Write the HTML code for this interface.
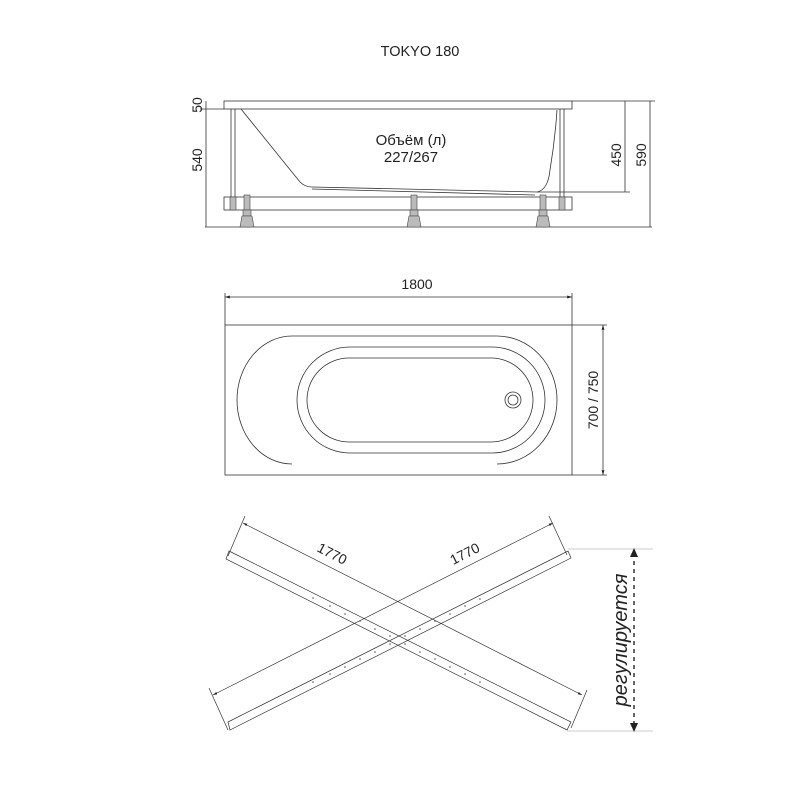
<!DOCTYPE html>
<html><head><meta charset="utf-8"><style>
html,body{margin:0;padding:0;background:#fff}
svg{display:block}
text{font-family:"Liberation Sans",sans-serif;fill:#222}
</style></head><body>
<svg width="800" height="800" viewBox="0 0 800 800" xmlns="http://www.w3.org/2000/svg">
<defs>
<marker id="a" viewBox="0 0 10 10" refX="10" refY="5" markerWidth="6" markerHeight="6" orient="auto-start-reverse"><path d="M0,2 L10,5 L0,8z" fill="#222"/></marker>
</defs>
<text x="420" y="56" font-size="14.5" text-anchor="middle">TOKYO 180</text>

<!-- side view -->
<g stroke="#333" stroke-width="0.8" fill="none">
<rect x="224" y="101" width="348" height="8"/>
<rect x="224" y="197" width="348" height="13"/>
<line x1="205" y1="227" x2="652" y2="227"/>
<line x1="231" y1="109" x2="231" y2="197"/><line x1="235" y1="109" x2="235" y2="197"/>
<line x1="560" y1="109" x2="560" y2="197"/><line x1="564" y1="109" x2="564" y2="197"/>
<path d="M241,109 L300,182 Q305,187 312,187 L537,192 Q548,190 550,170 Q555,140 557,110"/>
<path d="M312,189 L535,195"/>
<line x1="206" y1="101" x2="206" y2="227"/>
<line x1="200" y1="109" x2="224" y2="109"/>
<line x1="625" y1="101" x2="625" y2="192"/>
<line x1="650" y1="101" x2="650" y2="227"/>
<line x1="572" y1="101" x2="655" y2="101"/>
<line x1="537" y1="192" x2="630" y2="192"/>
</g>
<g fill="#bbb" stroke="#444" stroke-width="0.6">
<rect x="244" y="195" width="6" height="15"/><rect x="243" y="210" width="8" height="6"/><path d="M242,216 L252,216 L254,227 L240,227z"/>
<rect x="411" y="195" width="6" height="15"/><rect x="410" y="210" width="8" height="6"/><path d="M409,216 L419,216 L421,227 L407,227z"/>
<rect x="540" y="195" width="6" height="15"/><rect x="539" y="210" width="8" height="6"/><path d="M538,216 L548,216 L550,227 L536,227z"/>
<rect x="230" y="197" width="6" height="13"/><rect x="559" y="197" width="6" height="13"/>
</g>
<text x="411" y="145" font-size="15" text-anchor="middle">Объём (л)</text>
<text x="411" y="162" font-size="15" text-anchor="middle">227/267</text>
<text transform="translate(202,105) rotate(-90)" font-size="14" text-anchor="middle">50</text>
<text transform="translate(202,160) rotate(-90)" font-size="14" text-anchor="middle">540</text>
<text transform="translate(621,155) rotate(-90)" font-size="14" text-anchor="middle">450</text>
<text transform="translate(646,155) rotate(-90)" font-size="14" text-anchor="middle">590</text>

<!-- top view -->
<g stroke="#333" stroke-width="0.8" fill="none">
<line x1="225" y1="297" x2="572" y2="297" marker-start="url(#a)" marker-end="url(#a)"/>
<line x1="225" y1="293" x2="225" y2="325"/><line x1="572" y1="293" x2="572" y2="325"/>
<rect x="225" y="325" width="347" height="150"/>
<line x1="572" y1="325" x2="607" y2="325"/><line x1="572" y1="475" x2="607" y2="475"/>
<line x1="603" y1="325" x2="603" y2="475" marker-start="url(#a)" marker-end="url(#a)"/>
<path d="M292,336 L497,336 A60,64 0 0 1 557,400 A60,64 0 0 1 497,464 M292,464 A55,64 0 0 1 237,400 A55,64 0 0 1 292,336"/>
<path d="M350,347 L492,347 A53,53 0 0 1 492,453 L350,453 A53,53 0 0 1 350,347z"/>
<path d="M349,358 L491,358 A42,42 0 0 1 491,442 L349,442 A42,42 0 0 1 349,358z"/>
<circle cx="513" cy="400" r="8"/><circle cx="513" cy="400" r="5"/>
</g>
<text x="417" y="289" font-size="14" text-anchor="middle">1800</text>
<text transform="translate(598,400) rotate(-90)" font-size="14" text-anchor="middle">700 / 750</text>

<!-- frame view -->
<g stroke="#333" stroke-width="0.7" fill="none">
<path d="M229,551 L571,722 L567,730 L226,559z"/>
<path d="M228,722 L568,551 L571,558 L230,730z"/>
<line x1="243" y1="523" x2="582" y2="695" marker-start="url(#a)" marker-end="url(#a)"/>
<line x1="245" y1="516" x2="228" y2="556"/><line x1="587" y1="690" x2="571" y2="728"/>
<line x1="213" y1="695" x2="553" y2="523" marker-start="url(#a)" marker-end="url(#a)"/>
<line x1="209" y1="688" x2="228" y2="730"/><line x1="549" y1="516" x2="567" y2="555"/>
<line x1="568" y1="549" x2="653" y2="549" stroke="#bbb"/>
<line x1="567" y1="731" x2="653" y2="731" stroke="#bbb"/>
<line x1="634" y1="553" x2="634" y2="727" stroke-width="1.5" stroke-dasharray="4,4"/>
</g>
<path d="M634,548 L630,557 L638,557z M634,732 L630,723 L638,723z" fill="#222"/>
<g fill="#555">
<circle cx="313" cy="598" r="0.8"/><circle cx="330" cy="606" r="0.8"/><circle cx="345" cy="614" r="0.8"/><circle cx="360" cy="621" r="0.8"/><circle cx="375" cy="629" r="0.8"/><circle cx="390" cy="636" r="0.8"/><circle cx="405" cy="644" r="0.8"/><circle cx="420" cy="652" r="0.8"/><circle cx="435" cy="659" r="0.8"/><circle cx="450" cy="667" r="0.8"/><circle cx="465" cy="674" r="0.8"/><circle cx="480" cy="682" r="0.8"/>
<circle cx="313" cy="682" r="0.8"/><circle cx="330" cy="674" r="0.8"/><circle cx="345" cy="667" r="0.8"/><circle cx="360" cy="659" r="0.8"/><circle cx="375" cy="652" r="0.8"/><circle cx="390" cy="644" r="0.8"/><circle cx="405" cy="636" r="0.8"/><circle cx="420" cy="629" r="0.8"/><circle cx="435" cy="621" r="0.8"/><circle cx="450" cy="614" r="0.8"/><circle cx="465" cy="606" r="0.8"/><circle cx="480" cy="599" r="0.8"/>
</g>
<text transform="translate(330,558) rotate(27)" font-size="14" text-anchor="middle">1770</text>
<text transform="translate(467,558) rotate(-27)" font-size="14" text-anchor="middle">1770</text>
<text transform="translate(627,640) rotate(-90)" font-size="20" font-style="italic" text-anchor="middle">регулируется</text>
</svg>
</body></html>
